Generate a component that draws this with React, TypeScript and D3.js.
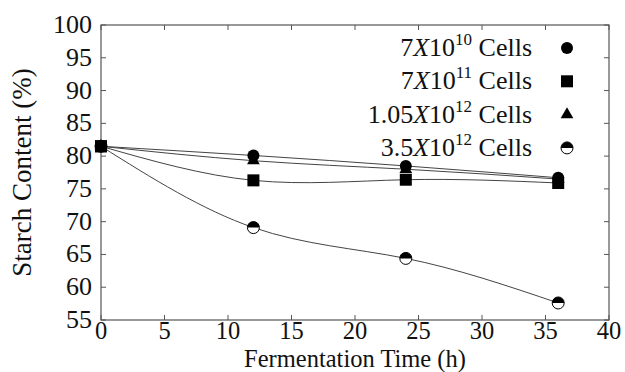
import * as d3 from 'd3';

const hours = [0, 12, 24, 36];
const cells1 = [81.5, 80.1, 78.5, 76.7];
const cells2 = [81.5, 76.3, 76.4, 75.9];
const cells3 = [81.5, 79.3, 78.0, 76.5];
const cells4 = [81.5, 69.1, 64.4, 57.6];
const xTicks = [0, 5, 10, 15, 20, 25, 30, 35, 40];
const yTicks = [55, 60, 65, 70, 75, 80, 85, 90, 95, 100];

const series = [
    { base: '7', exp: '10', values: cells1, shape: 'circle' },
    { base: '7', exp: '11', values: cells2, shape: 'square' },
    { base: '1.05', exp: '12', values: cells3, shape: 'triangle' },
    { base: '3.5', exp: '12', values: cells4, shape: 'half' },
];

const FONT = "'Liberation Serif', 'Times New Roman', serif";

function Marker({ shape, x, y }: { shape: string; x: number; y: number }) {
    if (shape === 'circle') return <circle cx={x} cy={y} r={6} fill="#000" />;
    if (shape === 'square') return <rect x={x - 6} y={y - 6} width={12} height={12} fill="#000" />;
    if (shape === 'triangle') {
        const s = d3.symbol(d3.symbolTriangle, 70)() || '';
        return <path d={s} transform={`translate(${x},${y})`} fill="#000" />;
    }
    const r = 6;
    return (
        <g transform={`translate(${x},${y})`}>
            <circle r={r} fill="#fff" stroke="#000" strokeWidth={1} />
            <path d={`M${-r},0 A${r},${r} 0 0 1 ${r},0 Z`} fill="#000" />
        </g>
    );
}

export default function App() {
    const width = 625;
    const height = 372;
    const margin = { top: 25, right: 16, bottom: 52, left: 101 };

    const x = d3.scaleLinear().domain([0, 40]).range([margin.left, width - margin.right]);
    const y = d3.scaleLinear().domain([55, 100]).range([height - margin.bottom, margin.top]);

    const line = d3
        .line<number>()
        .x((_, i) => x(hours[i]))
        .y((d) => y(d))
        .curve(d3.curveNatural);

    const [x0, x1] = x.range();
    const [y0, y1] = y.range();
    const tick = 5;

    return (
        <div style={{ position: 'absolute', left: 0, top: 0 }}>
            <svg width={width} height={height} style={{ display: 'block', background: '#fff', fontFamily: FONT }}>
                {/* frame */}
                <rect x={x0} y={y1} width={x1 - x0} height={y0 - y1} fill="none" stroke="#555" strokeWidth={1.2} />

                {/* ticks */}
                {xTicks.map((t) => (
                    <g key={'x' + t}>
                        <line x1={x(t)} x2={x(t)} y1={y0} y2={y0 - tick} stroke="#555" />
                        <line x1={x(t)} x2={x(t)} y1={y1} y2={y1 + tick} stroke="#555" />
                        <text x={x(t)} y={y0 + 19} textAnchor="middle" fontSize={24.5} fill="#111">{t}</text>
                    </g>
                ))}
                {yTicks.map((t) => (
                    <g key={'y' + t}>
                        <line x1={x0} x2={x0 + tick} y1={y(t)} y2={y(t)} stroke="#555" />
                        <line x1={x1} x2={x1 - tick} y1={y(t)} y2={y(t)} stroke="#555" />
                        <text x={x0 - 9} y={y(t) + 8} textAnchor="end" fontSize={26} fill="#111">{t}</text>
                    </g>
                ))}

                {/* axis titles */}
                <text x={(x0 + x1) / 2} y={366.5} textAnchor="middle" fontSize={24.5} fill="#111">Fermentation Time (h)</text>
                <text transform={`translate(31,${(y0 + y1) / 2}) rotate(-90)`} textAnchor="middle" fontSize={27} fill="#111">Starch Content (%)</text>

                {/* curves */}
                {series.map((s, i) => (
                    <path key={'l' + i} d={line(s.values) || ''} fill="none" stroke="#444" strokeWidth={1} />
                ))}

                {/* markers */}
                {series.map((s, i) => (
                    <g key={'m' + i}>
                        {s.values.map((v, j) => (
                            <Marker key={j} shape={s.shape} x={x(hours[j])} y={y(v)} />
                        ))}
                    </g>
                ))}
                {/* first point drawn on top */}
                <Marker shape="square" x={x(hours[0])} y={y(cells2[0])} />

                {/* legend */}
                {series.map((s, i) => {
                    const cy = 48 + i * 33.3;
                    return (
                        <g key={'lg' + i}>
                            <text x={532} y={cy + 8} textAnchor="end" fontSize={26} fill="#111">
                                {s.base}
                                <tspan fontStyle="italic">X</tspan>
                                10
                                <tspan fontSize={17} dy={-11}>{s.exp}</tspan>
                                <tspan dy={11}> Cells</tspan>
                            </text>
                            <Marker shape={s.shape} x={567} y={cy} />
                        </g>
                    );
                })}
            </svg>
        </div>
    );
}
